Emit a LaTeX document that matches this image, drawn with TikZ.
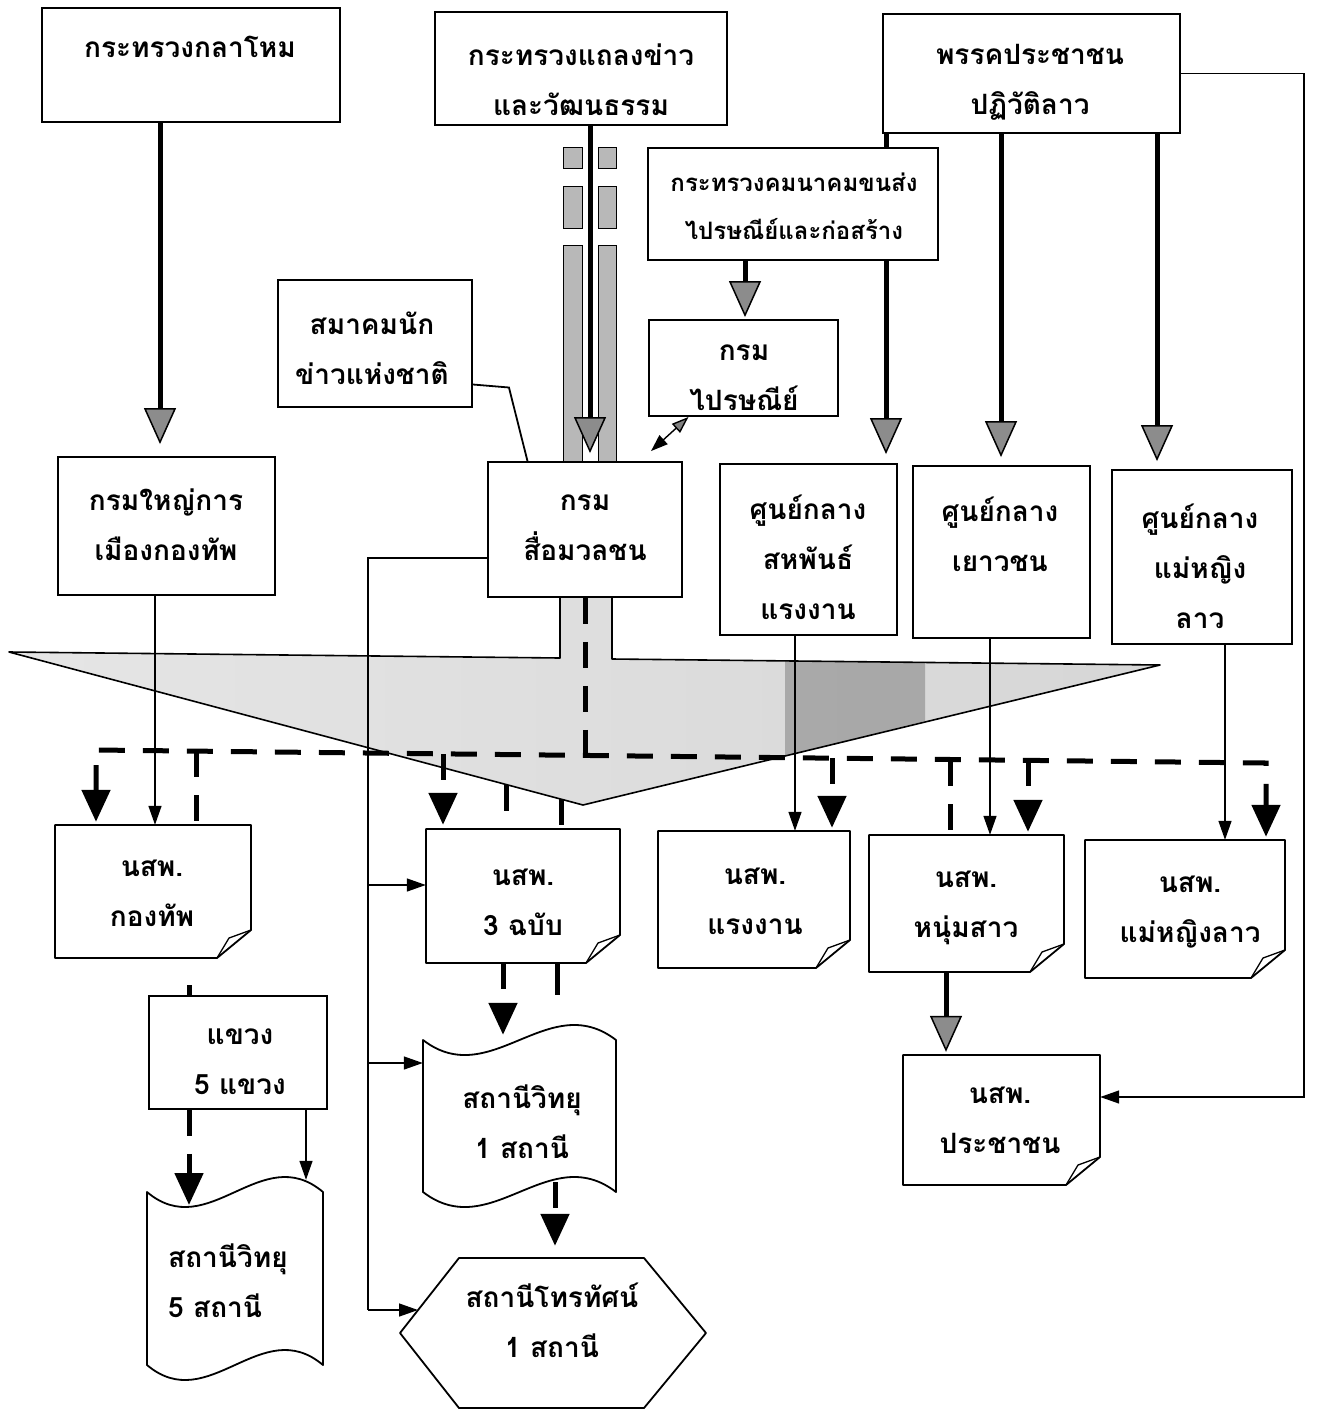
\documentclass[tikz,border=0pt]{standalone}
\usepackage{fontspec}
\newfontfamily\thai[Script=Thai]{Loma}
\usetikzlibrary{arrows.meta,calc}
\pgfdeclarelayer{bg}
\pgfdeclarelayer{lines}
\pgfsetlayers{bg,lines,main}
\newcommand\mkbox[5]{\node[box, minimum width={(#4-#2)*1pt}, minimum height={(#5-#3)*1pt}] (#1) at ({(#2+#4)/2},{(#3+#5)/2}) {};}
\newcommand\mkghost[5]{\node[ghost, minimum width={(#4-#2)*1pt}, minimum height={(#5-#3)*1pt}] (#1) at ({(#2+#4)/2},{(#3+#5)/2}) {};}
\newcommand\mkdoc[5]{\mkghost{#1}{#2}{#3}{#4}{#5}%
 \draw[shapeline] (#2,#3) -- (#4,#3) -- (#4,{#5-28}) -- ({#4-34},#5) -- (#2,#5) -- cycle;%
 \draw[line width=1.3pt, line join=round] ({#4-34},#5) .. controls ({#4-28},{#5-10}) .. ({#4-22},{#5-20}) -- (#4,{#5-28});}
\newcommand\mktape[5]{\mkghost{#1}{#2}{#3}{#4}{#5}%
 \draw[shapeline] (#2,#3) .. controls ({#2+0.35*(#4-#2)},{#3+52}) and ({#2+0.65*(#4-#2)},{#3-52}) .. (#4,#3) -- (#4,#5) .. controls ({#2+0.65*(#4-#2)},{#5-52}) and ({#2+0.35*(#4-#2)},{#5+52}) .. (#2,#5) -- cycle;}
\begin{document}
\begin{tikzpicture}[x=1pt,y=-1pt,
 box/.style={draw, line width=1.9pt, fill=white, inner sep=0pt},
 ghost/.style={inner sep=0pt},
 txt/.style={font=\thai\bfseries\fontsize{28}{50}\selectfont, align=center, inner sep=0pt},
 smalltxt/.style={font=\thai\bfseries\fontsize{24}{48}\selectfont, align=center, inner sep=0pt},
 shapeline/.style={line width=1.8pt, fill=white, line join=round},
 thinline/.style={line width=1.4pt},
 thinarrow/.style={line width=1.4pt, -{Triangle[width=13pt,length=19pt]}},
 thickarrow/.style={line width=5pt, -{Triangle[width=32pt,length=36pt,line width=1.5pt,fill=black!45]}},
 dashline/.style={line width=5pt, dash pattern=on 26pt off 18pt},
 dasharrow/.style={line width=5pt, dash pattern=on 26pt off 18pt, -{Triangle[width=28pt,length=32pt]}},
 strip/.style={draw, line width=0.9pt, fill=black!28}]
\useasboundingbox (0,0) rectangle (1324,1411);

% ---------- nodes ----------
\mkbox{b1}{42}{8}{340}{122}
\mkbox{b2}{435}{12}{727}{125}
\mkbox{b3}{883}{14}{1180}{133}
\mkbox{b4}{648}{148}{938}{260}
\mkbox{b5}{649}{320}{838}{416}
\mkbox{b6}{278}{280}{472}{407}
\mkbox{b7}{488}{462}{682}{597}
\mkbox{b8}{58}{457}{275}{595}
\mkbox{b9}{720}{464}{897}{635}
\mkbox{b10}{913}{466}{1090}{638}
\mkbox{b11}{1112}{470}{1292}{644}
\mkbox{b12}{149}{996}{327}{1109}
\mkdoc{d1}{55}{825}{251}{958}
\mkdoc{d2}{426}{829}{620}{963}
\mkdoc{d3}{658}{831}{850}{968}
\mkdoc{d4}{869}{835}{1064}{972}
\mkdoc{d5}{1085}{840}{1285}{978}
\mkdoc{d6}{903}{1055}{1100}{1185}
\mktape{t1}{147}{1192}{323}{1365}
\mktape{t2}{423}{1040}{616}{1192}
\mkghost{hex}{400}{1258}{706}{1408}
\draw[shapeline] (400,1333) -- (459,1258) -- (644,1258) -- (706,1333) -- (644,1408) -- (459,1408) -- cycle;

\node[txt] (tb1) at (190,47) {กระทรวงกลาโหม};
\node[txt] (tb2) at (581,80) {กระทรวงแถลงข่าว\\และวัฒนธรรม};
\node[txt] (tb3) at (1030,82) {พรรคประชาชน\\ปฏิวัติลาว};
\node[smalltxt] (tb4) at (794,206) {กระทรวงคมนาคมขนส่ง\\ไปรษณีย์และก่อสร้าง};
\node[txt] (tb5) at (744,378) {กรม\\ไปรษณีย์};
\node[txt] (tb6) at (372,348) {สมาคมนัก\\ข่าวแห่งชาติ};
\node[txt] (tb7) at (585,528) {กรม\\สื่อมวลชน};
\node[txt] (tb8) at (166,525) {กรมใหญ่การ\\เมืองกองทัพ};
\node[txt] (tb9) at (808,557) {ศูนย์กลาง\\สหพันธ์\\แรงงาน};
\node[txt] (tb10) at (1000,534) {ศูนย์กลาง\\เยาวชน};
\node[txt] (tb11) at (1200,566) {ศูนย์กลาง\\แม่หญิง\\ลาว};
\node[txt] (td1) at (152,893) {นสพ.\\กองทัพ};
\node[txt] (td2) at (523,902) {นสพ.\\3 ฉบับ};
\node[txt] (td3) at (755,901) {นสพ.\\แรงงาน};
\node[txt] (td4) at (966,908) {นสพ.\\หนุ่มสาว};
\node[txt] (td5) at (1190,912) {นสพ.\\แม่หญิงลาว};
\node[txt] (td6) at (1000,1120) {นสพ.\\ประชาชน};
\node[txt] (tb12) at (240,1062) {แขวง\\5 แขวง};
\node[txt, align=left, anchor=west] (tt1) at (168,1281) {สถานีวิทยุ\\5 สถานี};
\node[txt] (tt2) at (522,1122) {สถานีวิทยุ\\1 สถานี};
\node[txt] (thx) at (552,1320) {สถานีโทรทัศน์\\1 สถานี};

% ---------- helper coordinates ----------
\foreach \xx in {96,155,160,189,196,306,368,443,503,506,555,557,561,585,590,745,795,832,886,946,950,990,1001,1028,1157,1225,1266,1304}
  \coordinate (X\xx) at (\xx,0);
\coordinate (J) at (368,558);
\coordinate (DL) at (96,750);
\coordinate (DR) at (1266,763);
\coordinate (D196) at (196,751);
\coordinate (D443) at (443,754);
\coordinate (D585) at (585,753);
\coordinate (D832) at (832,758);
\coordinate (D950) at (950,760);
\coordinate (D1028) at (1028,760);
\coordinate (S506) at (506,785);
\coordinate (S561) at (561,799);
\coordinate (hexin) at (418,1310);
\coordinate (D6in) at ([yshift=23pt]d6.east);
\coordinate (D2in) at ([yshift=11pt]d2.west);
\coordinate (T2in) at ([yshift=53pt]t2.west);
\coordinate (T1in) at (189,1205);
\coordinate (T2out) at (555,1182);
\coordinate (D2st) at (557,995);
\coordinate (B12st) at (189,985);

% ---------- background: funnel, strips ----------
\begin{pgfonlayer}{bg}
\fill[white] (0,0) rectangle (1324,1411);
\shade[left color=black!10, middle color=black!42, right color=black!16]
  (9,652) -- (560,658) -- (560,597) -- (612,597) -- (612,659) -- (1160,665) -- (583,805) -- cycle;
\fill[black!50, opacity=0.55] (785,661) -- (925,662) -- (925,721) -- (785,756) -- cycle;
\draw[line width=1.6pt, line join=round] (560,597) -- (560,658) -- (9,652) -- (583,805) -- (1160,665) -- (612,659) -- (612,597);
\draw[strip] (563,147) rectangle (582,168);
\draw[strip] (598,147) rectangle (616,168);
\draw[strip] (563,186) rectangle (582,228);
\draw[strip] (598,186) rectangle (616,228);
\draw[strip] (563,245) rectangle (582,462);
\draw[strip] (598,245) rectangle (616,462);
\end{pgfonlayer}

% ---------- connectors ----------
\begin{pgfonlayer}{lines}
\draw[thickarrow, shorten >=12pt] (X160 |- b1.south) -- (X160 |- b8.north);
\draw[thickarrow, shorten >=8pt] (X590 |- b2.south) -- (X590 |- b7.north);
\draw[thickarrow, shorten >=2pt] (X745 |- b4.south) -- (X745 |- b5.north);
\draw[thickarrow, shorten >=9pt] (X886 |- b3.south) -- (X886 |- b9.north);
\draw[thickarrow, shorten >=8pt] (X1001 |- b3.south) -- (X1001 |- b10.north);
\draw[thickarrow, shorten >=8pt] (X1157 |- b3.south) -- (X1157 |- b11.north);
\draw[thickarrow, shorten >=3pt] (X946 |- d4.south) -- (X946 |- d6.north);

\draw[thinarrow] (X155 |- b8.south) -- (X155 |- d1.north);
\draw[thinarrow] (X795 |- b9.south) -- (X795 |- d3.north);
\draw[thinarrow] (X990 |- b10.south) -- (X990 |- d4.north);
\draw[thinarrow] (X1225 |- b11.south) -- (X1225 |- d5.north);
\draw[thinarrow, shorten >=12pt] (X306 |- b12.south) -- (X306 |- t1.north);

\draw[thinline] (J -| b7.west) -- (J) -- (J |- hexin);
\draw[thinarrow] (J |- D2in) -- (D2in);
\draw[thinarrow] (J |- T2in) -- (T2in);
\draw[thinarrow] (J |- hexin) -- (hexin);

\draw[thinarrow] (b3.east) -- (b3.east -| X1304) -- (X1304 |- D6in) -- (D6in);

\draw[line width=1.4pt, {Triangle[width=12pt,length=17pt,fill=black!50]}-{Triangle[width=12pt,length=17pt]}]
  ([xshift=-55pt]b5.south) -- ([xshift=66pt,yshift=10pt]b7.north);
\draw[line width=1.8pt] ([yshift=-41pt]b6.east) -- ++(36,3) -- ([xshift=-55pt,yshift=-10pt]b7.north);

\draw[dashline, {Triangle[width=28pt,length=32pt]}-{Triangle[width=28pt,length=32pt]}, shorten <=3pt, shorten >=3pt]
  (X96 |- d1.north) -- (DL) -- (DR) -- (X1266 |- d5.north);
\draw[dashline] (D196) -- (X196 |- d1.north);
\draw[dasharrow, shorten >=4pt] (D443) -- (X443 |- d2.north);
\draw[dasharrow, shorten >=3pt] (D832) -- (X832 |- d3.north);
\draw[dashline] (D950) -- (X950 |- d4.north);
\draw[dasharrow, shorten >=3pt] (D1028) -- (X1028 |- d4.north);
\draw[dashline] (S506) -- (X506 |- d2.north);
\draw[dashline] (S561) -- (X561 |- d2.north);
\draw[dashline] (X585 |- b7.south) -- (D585);

\draw[dasharrow, shorten >=5pt] (X503 |- d2.south) -- (X503 |- t2.north);
\draw[line width=5pt] (X557 |- d2.south) -- (D2st);
\draw[line width=5pt] (B12st) -- (X189 |- b12.north);
\draw[dasharrow] (X189 |- b12.south) -- (T1in);
\draw[dasharrow, shorten >=12pt] (T2out) -- (X555 |- hex.north);
\end{pgfonlayer}
\end{tikzpicture}
\end{document}
